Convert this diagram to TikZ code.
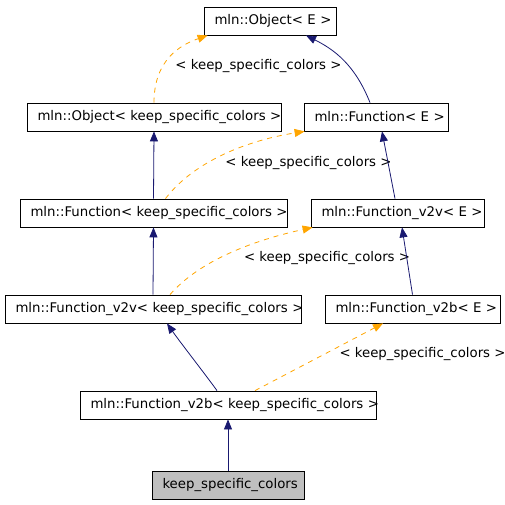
\documentclass[tikz,border=0pt]{standalone}
\usepackage{fontspec}
\setmainfont{DejaVu Sans}
\usetikzlibrary{positioning, arrows.meta}
\definecolor{midnight}{HTML}{191970}
\definecolor{tplorange}{HTML}{FFA500}
\definecolor{leafgray}{HTML}{BFBFBF}
\tikzset{
  cls1/.style = {
    shape = rectangle,
    draw = black,
    fill = white,
    line width = 0.8pt,
    inner ysep = 0pt,
    inner xsep = 10.5pt,
    text width = #1,
    minimum height = 28pt,
    font = \fontsize{13.3}{15}\selectfont,
    execute at begin node = \hbox\bgroup,
    execute at end node = \egroup,
  },
  lbl1/.style = {
    inner sep = 0pt,
    font = \fontsize{13.3}{15}\selectfont,
  }
}
\tikzset{
  arrow1/.style = {
    draw = midnight, line width = 0.8pt, -{Triangle[length = 10pt, width = 8pt]},
  },
  arrow2/.style = {
    draw = tplorange, line width = 0.8pt, dash pattern = on 5pt off 5pt,
    -{Triangle[length = 10pt, width = 8pt]},
  }
}

\begin{document}
\begin{tikzpicture}[x = 1pt, y = -1pt]
        \useasboundingbox (0,0) rectangle (505,504);
        \node[cls1 = 111pt](1) at (270,21){mln::Object< E >};
        \node[cls1 = 233pt](2) at (154,117){mln::Object< keep\_specific\_colors >};
        \node[cls1 = 123pt](3) at (376,117){mln::Function< E >};
        \node[cls1 = 246pt](4) at (153.5,213){mln::Function< keep\_specific\_colors >};
        \node[cls1 = 152pt](5) at (397.5,213){mln::Function\_v2v< E >};
        \node[cls1 = 275pt](6) at (153,309){mln::Function\_v2v< keep\_specific\_colors >};
        \node[cls1 = 154pt](7) at (412.5,309){mln::Function\_v2b< E >};
        \node[cls1 = 275pt](8) at (228,405){mln::Function\_v2b< keep\_specific\_colors >};
        \node[cls1 = 131pt, fill = leafgray](9) at (228,485){keep\_specific\_colors};
        \node[lbl1](l1) at (258.5,66){< keep\_specific\_colors >};
        \node[lbl1](l2) at (308.5,163){< keep\_specific\_colors >};
        \node[lbl1](l3) at (327,258){< keep\_specific\_colors >};
        \node[lbl1](l4) at (422.5,354){< keep\_specific\_colors >};
        \draw[arrow2](2.north) .. controls (154,60) and (180,45) .. ([xshift = 4pt]1.south west);
        \draw[arrow1]([xshift = -6pt]3.north) .. controls (355,65) and (335,50) .. ([xshift = 36pt]1.south);
        \draw[arrow1](4.north) -- (2.south);
        \draw[arrow2]([xshift = 12pt]4.north) .. controls (195,160) and (250,140) .. ([xshift = 1pt]3.south west);
        \draw[arrow1]([xshift = -2.5pt]5.north) -- ([xshift = 6pt]3.south);
        \draw[arrow1](6.north) -- (4.south);
        \draw[arrow2]([xshift = 17pt]6.north) .. controls (200,260) and (255,240) .. ([xshift = 2pt]5.south west);
        \draw[arrow1](7.north) -- ([xshift = 4.5pt]5.south);
        \draw[arrow1]([xshift = -11pt]8.north) .. controls (205,374) and (180,342) .. ([xshift = 14pt]6.south);
        \draw[arrow2]([xshift = 27pt]8.north) -- ([xshift = -29.5pt]7.south);
        \draw[arrow1](9.north) -- (8.south);
    \end{tikzpicture}
\end{document}
